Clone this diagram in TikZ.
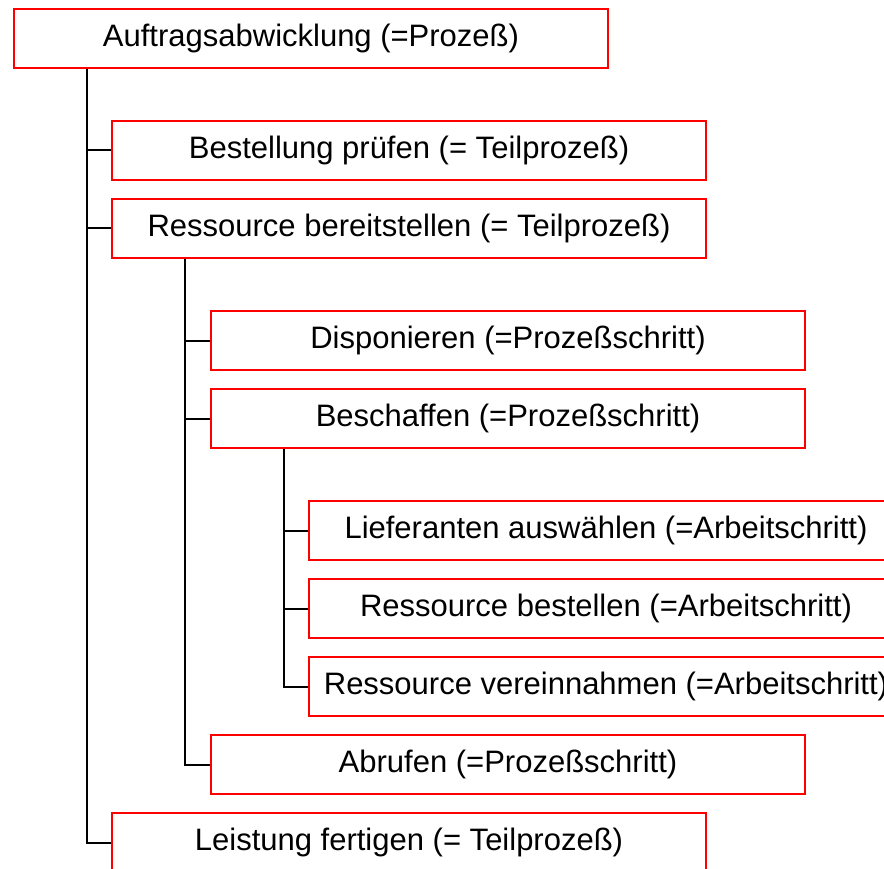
\documentclass[tikz,border=0pt]{standalone}
\usepackage{fontspec}
\setmainfont{Liberation Sans}
\usepackage{xcolor}
\usepackage{tikz}
\usetikzlibrary{positioning,calc}

\begin{document}
\begin{tikzpicture}[x=1pt,y=-1pt,
    stufe/.style={draw=red, line width=2pt, anchor=north west,
        minimum width=594pt, minimum height=59pt, inner sep=0pt,
        font=\fontsize{31}{36}\selectfont},
    ast/.style={black, line width=2pt}]
\useasboundingbox (0,0) rectangle (884,869);

% Boxes
\node[stufe] (auftrag) at (13,8) {Auftragsabwicklung (=Prozeß)};
\node[stufe] (bestellung) at (111,120) {Bestellung prüfen (= Teilprozeß)};
\node[stufe] (bereitstellen) at (111,198) {Ressource bereitstellen (= Teilprozeß)};
\node[stufe] (disponieren) at (210,310) {Disponieren (=Prozeßschritt)};
\node[stufe] (beschaffen) at (210,388) {Beschaffen (=Prozeßschritt)};
\node[stufe] (lieferanten) at (308,500) {Lieferanten auswählen (=Arbeitschritt)};
\node[stufe] (bestellen) at (308,578) {Ressource bestellen (=Arbeitschritt)};
\node[stufe] (vereinnahmen) at (308,656) {Ressource vereinnahmen (=Arbeitschritt)};
\node[stufe] (abrufen) at (210,734) {Abrufen (=Prozeßschritt)};
\node[stufe] (leistung) at (111,812) {Leistung fertigen (= Teilprozeß)};

% Tree lines
\foreach \kind in {bestellung,bereitstellen,leistung}
    \draw[ast] ([xshift=74pt]auftrag.south west) |- (\kind.west);
\foreach \kind in {disponieren,beschaffen,abrufen}
    \draw[ast] ([xshift=74pt]bereitstellen.south west) |- (\kind.west);
\foreach \kind in {lieferanten,bestellen,vereinnahmen}
    \draw[ast] ([xshift=74pt]beschaffen.south west) |- (\kind.west);
\end{tikzpicture}
\end{document}
